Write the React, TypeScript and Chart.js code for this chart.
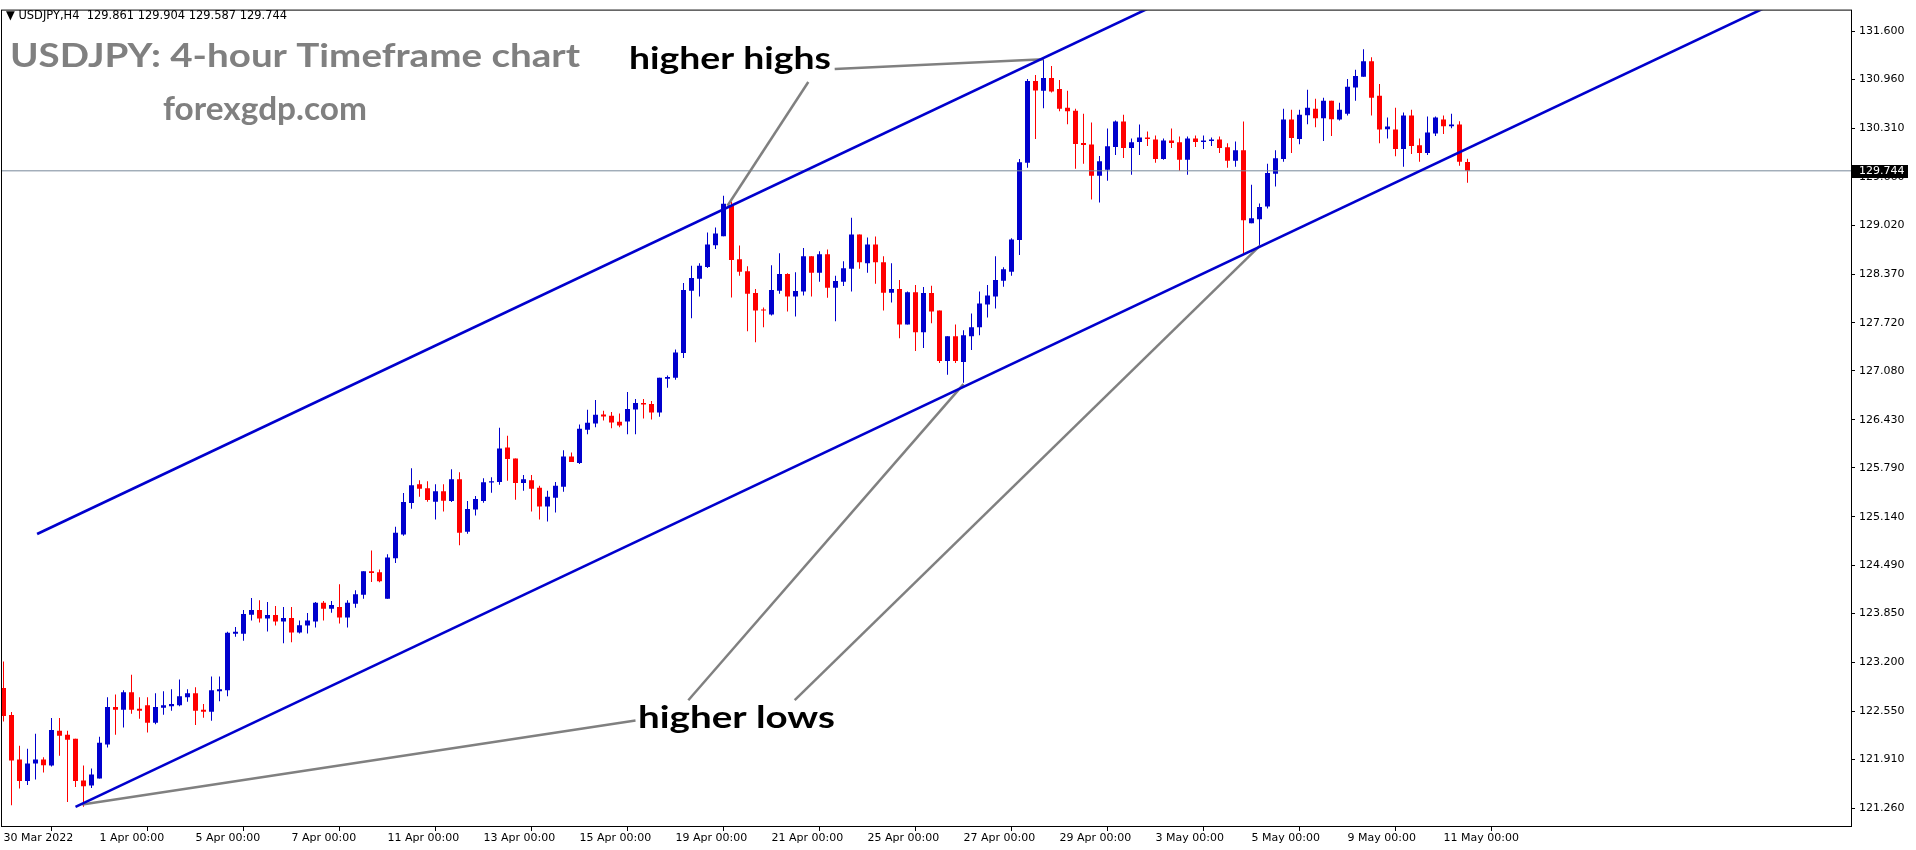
import React, { useEffect, useRef } from 'react';
import { Chart, registerables } from 'chart.js';
Chart.register(...registerables);

// ---------- data (4-hour candles, index 0 = 30 Mar 2022 00:00) ----------
const opens = [
  122.860,122.500,121.906,121.620,121.853,121.906,121.827,122.289,122.236,122.183,
  121.629,121.563,121.655,122.108,122.605,122.570,122.803,122.583,122.631,122.398,
  122.596,122.618,122.631,122.737,122.790,122.570,122.543,122.816,122.829,123.581,
  123.581,123.836,123.898,123.783,123.832,123.744,123.792,123.599,123.691,123.744,
  123.994,123.915,123.937,123.797,123.981,124.100,124.412,124.399,124.047,124.588,
  124.904,125.322,125.573,125.520,125.340,125.480,125.348,125.639,124.940,125.234,
  125.348,125.594,125.603,126.061,125.915,125.590,125.625,125.524,125.274,125.393,
  125.538,125.942,125.854,126.298,126.382,126.500,126.483,126.404,126.408,126.566,
  126.654,126.641,126.527,126.975,126.988,127.318,128.149,128.307,128.465,128.755,
  128.874,129.279,128.567,128.408,128.118,127.898,127.832,128.149,128.369,128.070,
  128.136,128.606,128.386,128.632,128.189,128.268,128.439,128.896,128.514,128.764,
  128.527,128.122,128.171,127.700,128.127,127.595,128.118,127.885,127.213,127.542,
  127.199,127.542,127.661,127.964,128.070,128.281,128.399,128.822,129.850,130.941,
  130.809,130.980,130.835,130.584,130.545,130.114,130.096,129.679,129.758,130.061,
  130.400,130.048,130.127,130.189,130.162,129.903,130.149,130.123,129.890,130.176,
  130.127,130.140,130.162,130.057,129.877,130.017,129.046,129.099,129.270,129.705,
  129.903,130.426,130.167,130.483,130.571,130.444,130.677,130.426,130.505,130.853,
  130.998,131.204,130.743,130.299,130.294,130.035,130.479,130.083,129.982,130.242,
  130.426,130.338,130.360,129.861,
];
const highs = [
  123.212,122.539,122.091,122.051,122.249,121.937,122.460,122.460,122.289,122.183,
  121.827,121.787,122.209,122.737,122.772,122.829,123.036,122.737,122.737,122.790,
  122.816,122.842,122.974,122.842,122.869,122.645,123.014,123.014,123.607,123.673,
  123.897,124.056,124.029,124.003,123.950,123.937,123.937,123.757,123.858,124.003,
  124.016,124.016,124.240,124.029,124.161,124.412,124.689,124.438,124.641,125.006,
  125.454,125.784,125.625,125.612,125.573,125.573,125.771,125.731,125.348,125.414,
  125.652,125.665,126.324,126.219,125.915,125.695,125.695,125.551,125.485,125.603,
  126.025,125.994,126.368,126.562,126.694,126.549,126.535,126.513,126.799,126.707,
  126.707,126.680,126.988,127.019,127.366,128.250,128.479,128.514,128.923,128.989,
  129.411,129.331,128.751,128.474,128.171,127.925,128.487,128.646,128.382,128.395,
  128.716,128.606,128.672,128.698,128.347,128.540,129.121,128.896,128.857,128.870,
  128.606,128.514,128.290,128.136,128.224,128.197,128.215,127.885,127.542,127.700,
  127.621,127.846,128.136,128.224,128.606,128.461,128.848,129.903,130.967,131.020,
  131.231,131.138,130.954,130.809,130.571,130.505,130.387,129.943,130.307,130.413,
  130.492,130.176,130.360,130.268,130.215,130.176,130.307,130.202,130.202,130.215,
  130.215,130.189,130.202,130.110,130.136,130.400,129.560,129.310,129.837,130.017,
  130.571,130.558,130.558,130.822,130.703,130.717,130.677,130.651,130.967,131.090,
  131.363,131.257,130.901,130.453,130.585,130.519,130.558,130.176,130.466,130.466,
  130.479,130.505,130.404,129.904,
];
const lows = [
  122.412,121.299,121.523,121.567,121.642,121.735,121.814,121.959,121.343,121.541,
  121.277,121.528,121.655,122.069,122.236,122.332,122.517,122.451,122.266,122.376,
  122.504,122.557,122.618,122.675,122.368,122.464,122.425,122.684,122.750,123.541,
  123.489,123.757,123.731,123.612,123.691,123.454,123.467,123.585,123.585,123.665,
  123.757,123.862,123.718,123.665,123.928,124.047,124.271,124.267,124.047,124.522,
  124.887,125.247,125.406,125.340,125.102,125.208,125.335,124.759,124.913,125.155,
  125.326,125.458,125.564,125.617,125.366,125.485,125.208,125.102,125.076,125.195,
  125.471,125.867,125.841,126.236,126.329,126.421,126.316,126.329,126.236,126.236,
  126.448,126.434,126.470,126.856,126.962,127.252,127.780,128.070,128.452,128.703,
  128.874,128.057,128.347,127.608,127.463,127.661,127.819,128.109,127.872,127.806,
  128.083,128.070,128.268,128.056,127.740,128.210,128.136,128.439,128.386,128.241,
  127.885,127.991,127.516,127.700,127.344,127.384,127.714,127.186,127.028,127.186,
  126.922,127.358,127.555,127.793,127.911,128.202,128.347,128.624,129.784,130.167,
  130.576,130.787,130.536,130.365,129.771,129.837,129.362,129.323,129.613,129.956,
  129.916,129.692,129.956,130.075,129.850,129.890,130.048,129.745,129.692,130.061,
  130.035,130.075,129.982,129.784,129.798,128.619,129.046,128.751,129.244,129.534,
  129.864,129.982,130.097,130.365,130.325,130.141,130.207,130.413,130.479,130.677,
  130.998,130.479,130.110,130.176,129.938,129.798,129.969,129.864,129.956,130.207,
  130.233,130.312,129.811,129.587,
];
const closes = [
  122.486,121.893,121.620,121.853,121.906,121.831,122.302,122.223,122.170,121.620,
  121.550,121.708,122.130,122.605,122.570,122.803,122.570,122.556,122.398,122.605,
  122.631,122.645,122.750,122.790,122.556,122.543,122.829,122.842,123.594,123.607,
  123.845,123.898,123.783,123.832,123.744,123.792,123.599,123.695,123.757,123.994,
  123.915,123.964,123.797,123.994,124.109,124.412,124.390,124.280,124.597,124.926,
  125.335,125.560,125.511,125.362,125.480,125.353,125.639,124.926,125.243,125.375,
  125.599,125.612,126.047,125.907,125.590,125.639,125.511,125.274,125.406,125.551,
  125.942,125.867,126.311,126.390,126.496,126.474,126.395,126.355,126.575,126.654,
  126.632,126.527,126.988,127.001,127.327,128.158,128.316,128.479,128.764,128.909,
  129.305,128.558,128.399,128.109,127.885,127.885,128.158,128.369,128.070,128.145,
  128.606,128.386,128.632,128.189,128.276,128.448,128.896,128.527,128.764,128.527,
  128.122,128.171,127.700,128.127,127.595,128.118,127.872,127.213,127.542,127.213,
  127.555,127.661,127.977,128.083,128.290,128.435,128.830,129.859,130.941,130.813,
  130.980,130.800,130.571,130.536,130.101,130.088,129.679,129.872,130.070,130.400,
  130.048,130.123,130.189,130.167,129.903,130.149,130.114,129.890,130.176,130.127,
  130.149,130.162,130.048,129.877,130.017,129.085,129.112,129.261,129.714,129.912,
  130.426,130.180,130.492,130.585,130.444,130.677,130.431,130.558,130.862,131.007,
  131.204,130.717,130.294,130.334,130.035,130.479,130.075,129.982,130.255,130.453,
  130.338,130.360,129.864,129.744,
];

const dateTickIdx = [0, 12, 24, 36, 48, 60, 72, 84, 96, 108, 120, 132, 144, 156, 168, 180];
const dateTickLabels = [
  '30 Mar 2022', '1 Apr 00:00', '5 Apr 00:00', '7 Apr 00:00', '11 Apr 00:00', '13 Apr 00:00',
  '15 Apr 00:00', '19 Apr 00:00', '21 Apr 00:00', '25 Apr 00:00', '27 Apr 00:00', '29 Apr 00:00',
  '3 May 00:00', '5 May 00:00', '9 May 00:00', '11 May 00:00',
];
const priceTicks = [
  131.6, 130.96, 130.31, 129.66, 129.02, 128.37, 127.72, 127.08, 126.43,
  125.79, 125.14, 124.49, 123.85, 123.2, 122.55, 121.91, 121.26,
];
const lastPrice = 129.744;

// trend lines (x = candle index, y = price)
const upperChannel = [{ x: 4.2, y: 124.91 }, { x: 240, y: 136.787 }];
const lowerChannel = [{ x: 9.0, y: 121.277 }, { x: 240, y: 132.913 }];
const highsLineA = [{ x: 103.9, y: 131.099 }, { x: 130.0, y: 131.231 }];
const highsLineB = [{ x: 100.6, y: 130.927 }, { x: 90.5, y: 129.279 }];
const lowsLineA = [{ x: 9.84, y: 121.309 }, { x: 79.0, y: 122.427 }];
const lowsLineB = [{ x: 85.6, y: 122.697 }, { x: 120.0, y: 126.905 }];
const lowsLineC = [{ x: 98.9, y: 122.697 }, { x: 157.1, y: 128.751 }];

const BLUE = '#0000CD';
const RED = '#FF0000';
const GRAY = '#808080';

function drawFitText(ctx: CanvasRenderingContext2D, text: string, x: number, baseline: number, font: string, color: string, width: number) {
  ctx.save();
  ctx.font = font;
  ctx.fillStyle = color;
  ctx.textAlign = 'left';
  ctx.textBaseline = 'alphabetic';
  const w = ctx.measureText(text).width;
  ctx.translate(x, baseline);
  ctx.scale(width / w, 1);
  ctx.fillText(text, 0, 0);
  ctx.restore();
}

const overlayPlugin = {
  id: 'overlay',
  afterDraw(chart: any) {
    const ctx: CanvasRenderingContext2D = chart.ctx;
    const { left, right, top, bottom } = chart.chartArea;
    const y = chart.scales.y;
    // frame
    ctx.save();
    ctx.strokeStyle = '#000';
    ctx.lineWidth = 1;
    ctx.strokeRect(left + 0.5, top - 0.5, right - left, bottom - top + 1);
    ctx.restore();
    // last price label
    const py = y.getPixelForValue(lastPrice);
    ctx.save();
    ctx.fillStyle = '#000';
    ctx.fillRect(right + 1, Math.round(py) - 6, 56, 13);
    ctx.fillStyle = '#fff';
    ctx.font = '11px "DejaVu Sans"';
    ctx.textBaseline = 'middle';
    ctx.textAlign = 'left';
    ctx.fillText(lastPrice.toFixed(3), right + 8, Math.round(py) + 0.5);
    ctx.restore();
    // texts
    const n = closes.length - 1;
    const header = '\u25BC USDJPY,H4  ' + [opens[n], highs[n], lows[n], closes[n]].map(v => v.toFixed(3)).join(' ');
    drawFitText(ctx, header, 6, 19, '12px "DejaVu Sans"', '#000', 281);
    drawFitText(ctx, 'USDJPY: 4-hour Timeframe chart', 10, 67, 'bold 33px Lato', GRAY, 570);
    drawFitText(ctx, 'forexgdp.com', 163, 120, 'bold 32px Lato', GRAY, 204);
    drawFitText(ctx, 'higher highs', 629, 69, 'bold 31px Lato', '#000', 202);
    drawFitText(ctx, 'higher lows', 638, 728, 'bold 31px Lato', '#000', 197);
  },
};

export default function App() {
  const ref = useRef<HTMLCanvasElement>(null);
  useEffect(() => {
    const colors = closes.map((c, i) => (c >= opens[i] ? BLUE : RED));
    const wickData = highs.map((h, i) => ({ x: i, y: [lows[i], h] }));
    const bodyData = closes.map((c, i) => ({ x: i, y: [Math.min(opens[i], c), Math.max(opens[i], c)] }));
    const lineDs = (data: any[], color: string, width: number) => ({
      type: 'line' as const,
      data,
      borderColor: color,
      borderWidth: width,
      pointRadius: 0,
      fill: false,
      tension: 0,
      order: 0,
    });
    const chart = new Chart(ref.current!, {
      type: 'bar',
      data: {
        datasets: [
          lineDs(upperChannel, BLUE, 2.6),
          lineDs(lowerChannel, BLUE, 2.6),
          lineDs(highsLineA, GRAY, 2.5),
          lineDs(highsLineB, GRAY, 2.5),
          lineDs(lowsLineA, GRAY, 2.5),
          lineDs(lowsLineB, GRAY, 2.5),
          lineDs(lowsLineC, GRAY, 2.5),
          lineDs([{ x: -1, y: lastPrice }, { x: 240, y: lastPrice }], '#778899', 1),
          {
            type: 'bar',
            data: bodyData as any,
            backgroundColor: colors,
            barThickness: 5,
            minBarLength: 1,
            grouped: false,
            borderWidth: 0,
            inflateAmount: 0,
            order: 1,
          } as any,
          {
            type: 'bar',
            data: wickData as any,
            backgroundColor: colors,
            barThickness: 1,
            grouped: false,
            borderWidth: 0,
            inflateAmount: 0,
            order: 2,
          } as any,
        ] as any,
      },
      options: {
        responsive: false,
        animation: false,
        devicePixelRatio: 1,
        layout: { padding: { left: 1, top: 3, right: 0, bottom: 0 } },
        plugins: { legend: { display: false }, tooltip: { enabled: false } },
        events: [],
        scales: {
          x: {
            type: 'linear',
            min: -0.3125,
            max: 230.9375,
            offset: false,
            afterBuildTicks: (s: any) => { s.ticks = dateTickIdx.map(v => ({ value: v })); },
            afterFit: (s: any) => { s.height = 24; },
            grid: { display: true, drawOnChartArea: false, drawTicks: true, tickLength: 5, color: '#000' },
            border: { display: false },
            ticks: {
              autoSkip: false,
              maxRotation: 0,
              align: 'start',
              padding: 1,
              color: '#000',
              font: { family: '"DejaVu Sans"', size: 11 },
              callback: (_v: any, i: number) => dateTickLabels[i],
            },
          },
          y: {
            type: 'linear',
            position: 'right',
            min: 121.0224,
            max: 131.877,
            afterBuildTicks: (s: any) => { s.ticks = priceTicks.map(v => ({ value: v })); },
            afterFit: (s: any) => { s.width = 65; },
            grid: { display: true, drawOnChartArea: false, drawTicks: true, tickLength: 4, color: '#000' },
            border: { display: false },
            ticks: {
              autoSkip: false,
              padding: 4,
              color: '#000',
              font: { family: '"DejaVu Sans"', size: 11 },
              callback: (v: any) => Number(v).toFixed(3),
            },
          },
        },
      } as any,
      plugins: [overlayPlugin],
    });
    return () => chart.destroy();
  }, []);
  return (
    <div style={{ position: 'fixed', left: 0, top: 0, width: 1916, height: 850, background: '#fff' }}>
      <canvas ref={ref} width={1916} height={850} style={{ width: 1916, height: 850, display: 'block' }} />
    </div>
  );
}
